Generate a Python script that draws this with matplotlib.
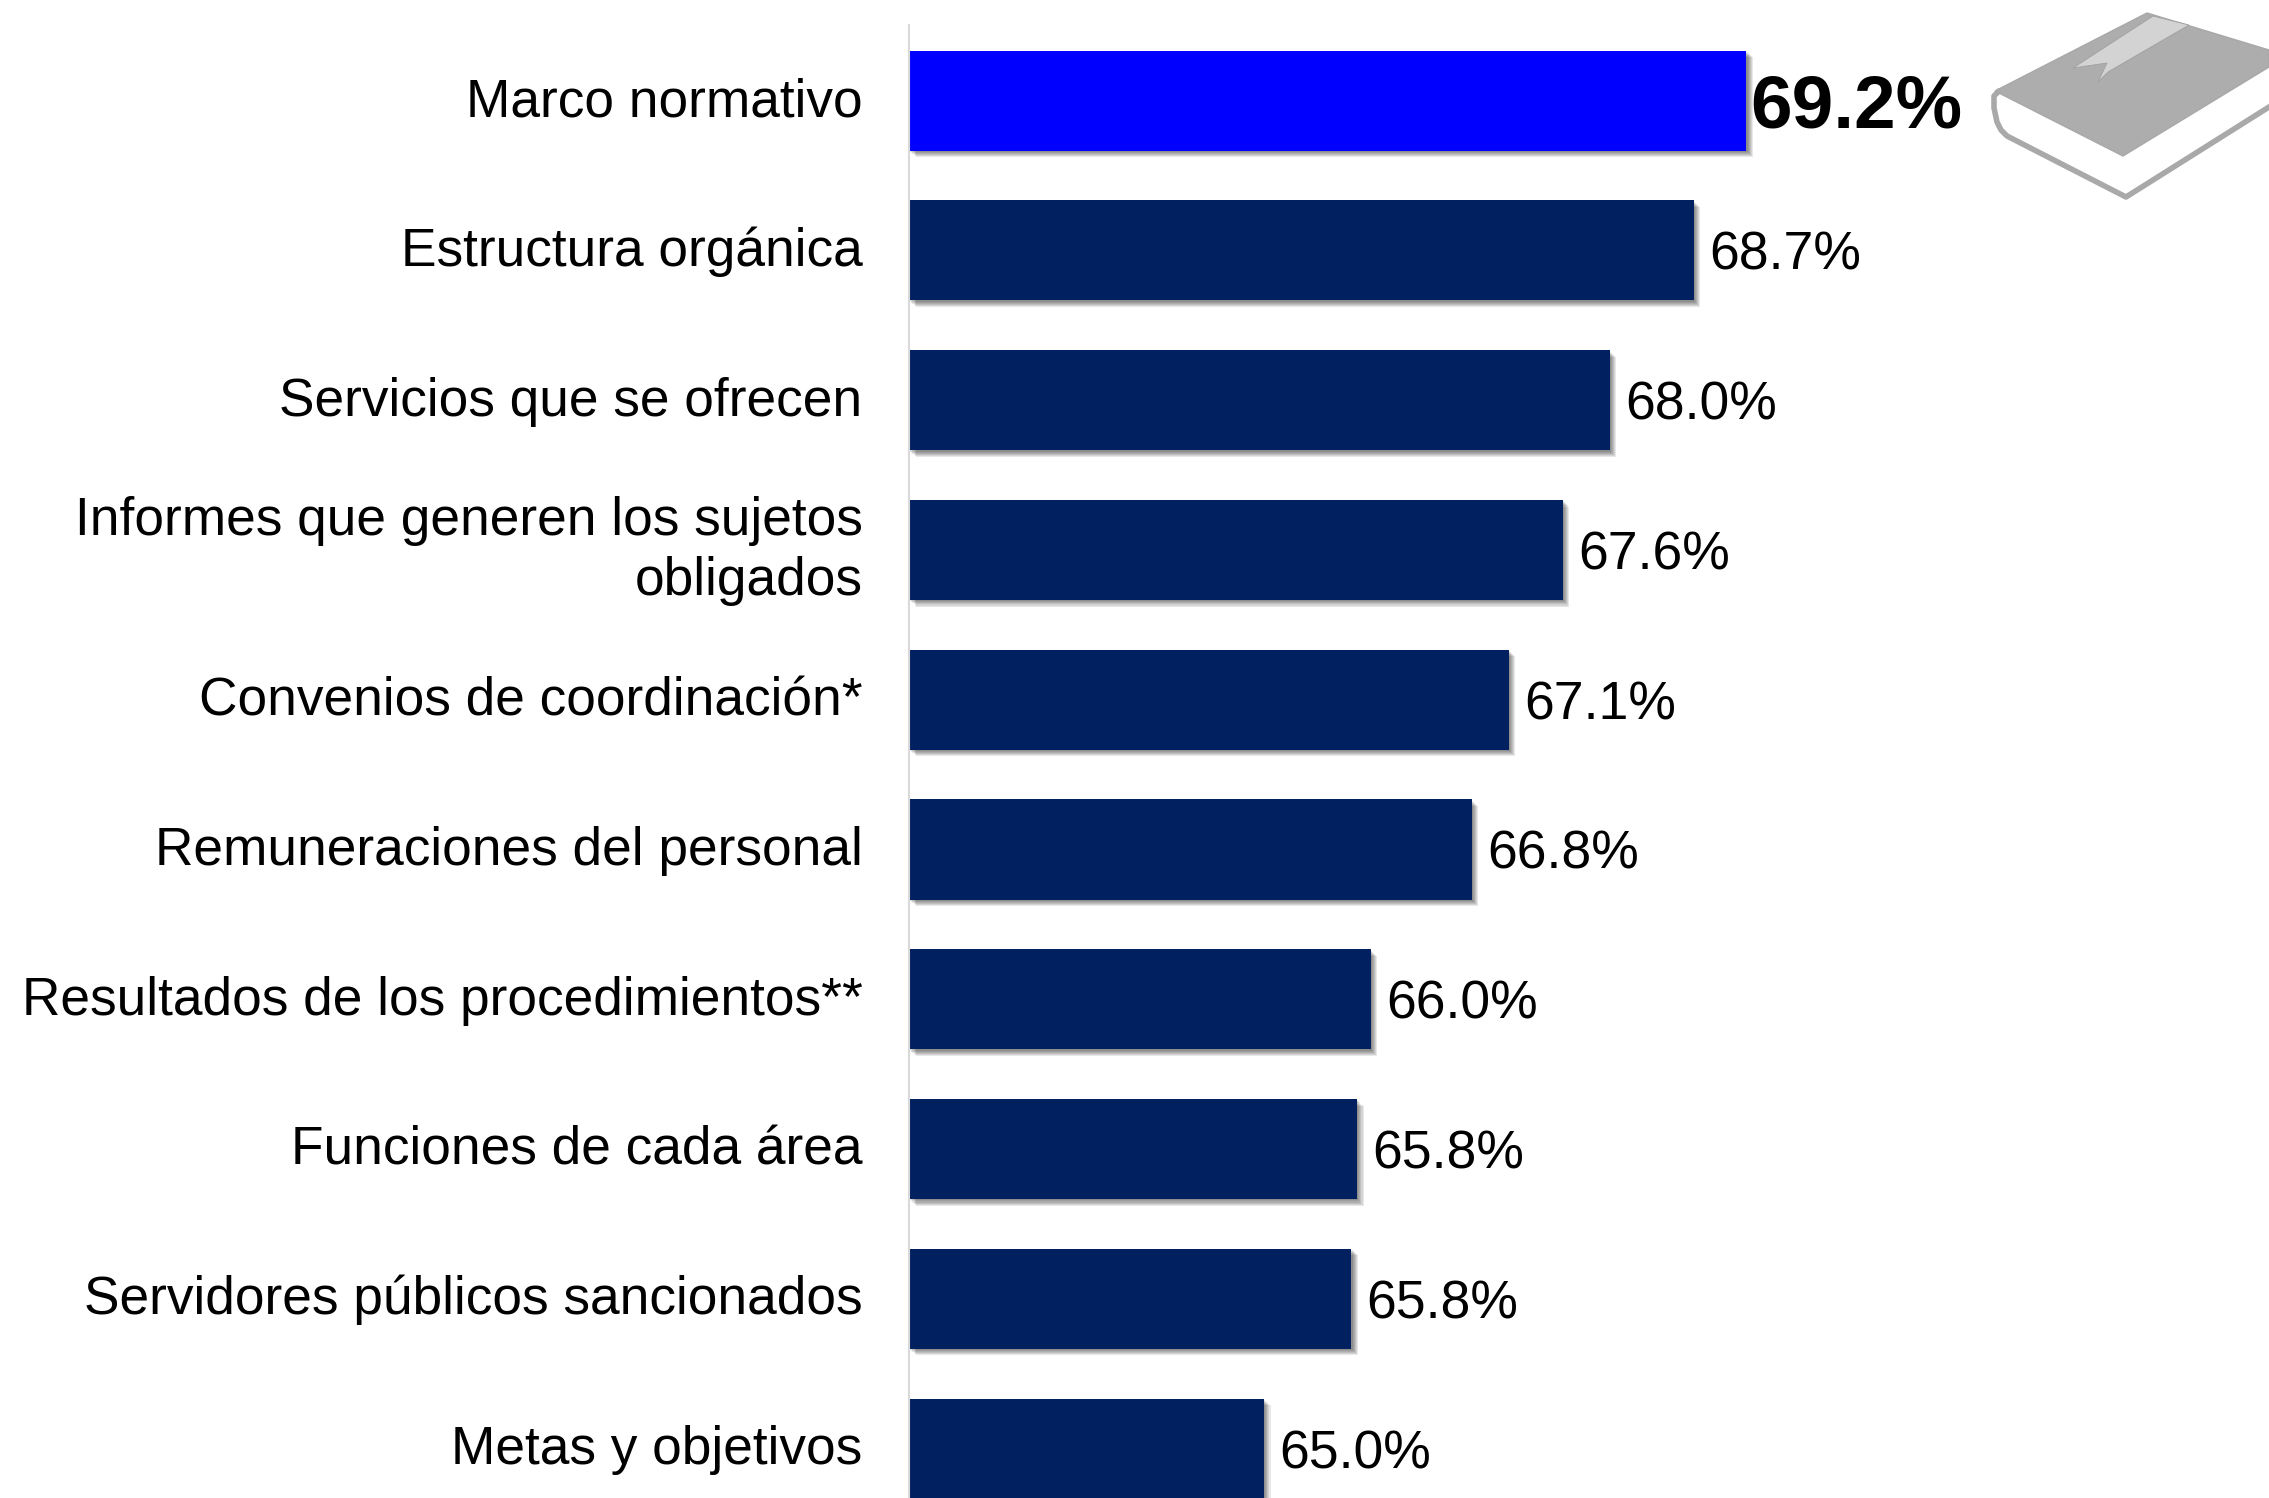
import matplotlib
matplotlib.use('Agg')
import matplotlib.pyplot as plt
import matplotlib.patheffects as pe
from matplotlib.patches import Polygon

plt.rcParams['font.family'] = ['Liberation Sans', 'DejaVu Sans']

categories = ['Marco normativo', 'Estructura orgánica', 'Servicios que se ofrecen',
              'Informes que generen los sujetos\nobligados', 'Convenios de coordinación*',
              'Remuneraciones del personal', 'Resultados de los procedimientos**',
              'Funciones de cada área', 'Servidores públicos sancionados', 'Metas y objetivos']
values = [69.2, 68.74, 68.01, 67.6, 67.13, 66.81, 65.93, 65.81, 65.76, 65.0]
value_labels = ['69.2%', '68.7%', '68.0%', '67.6%', '67.1%', '66.8%', '66.0%', '65.8%', '65.8%', '65.0%']
bar_colors = ['#0000ff'] + ['#002060'] * 9

# book icon outline, full size pixels
book_cover = [(2147, 13), (2269, 50), (2269, 67), (2123, 156), (1995, 91)]
book_ribbon = [(2153, 16), (2189, 25), (2108, 72), (2098, 82), (2107, 63), (2073, 68)]
book_pages = [(1995, 91), (2123, 156), (2269, 67), (2269, 105), (2126, 198), (2006, 137), (1997, 120)]
book_edge = [(1998, 92), (1994, 96), (1994, 108), (1997, 122), (2001, 130), (2007, 136), (2126, 197), (2269, 107)]

W, H = 2269, 1498
fig = plt.figure(figsize=(W / 100, H / 100), dpi=100)

# axes box in pixels: bars start at x=909, axis line starts at y=25
ax = fig.add_axes([909 / W, 0, (W - 909) / W, (H - 25) / H])
ax.set_xlim(61.91, 73.75)
ax.set_ylim(9.33, -0.505)

shadow = [pe.SimplePatchShadow(offset=(o, -o), shadow_rgbFace='#000000', alpha=0.09)
          for o in (1, 1.75, 2.5, 3.25, 4, 4.75)] + [pe.Normal()]
bars = ax.barh(range(len(values)), [v - 61.91 for v in values], left=61.91,
               height=0.668, color=bar_colors)
for b in bars:
    b.set_path_effects(shadow)

for i, v in enumerate(values):
    if i == 0:
        ax.annotate(value_labels[i], (v, i), xytext=(3, 0), textcoords='offset points',
                    va='center_baseline', fontsize=53.8, fontweight='bold', color='black')
    else:
        ax.annotate(value_labels[i], (v, i), xytext=(11, 0), textcoords='offset points',
                    va='center_baseline', fontsize=38.5, color='black')

# category names sit left of the axis line
for i, name in enumerate(categories):
    ax.annotate(name, (0, i), xycoords=('axes fraction', 'data'), xytext=(-33.5, -1),
                textcoords='offset points', ha='right', va='center', fontsize=38.3,
                color='black', linespacing=1.25)

ax.set_yticks([])
ax.set_xticks([])
for s in ['top', 'right', 'bottom']:
    ax.spines[s].set_visible(False)
ax.spines['left'].set_color('#d9d9d9')
ax.spines['left'].set_linewidth(1.5)

# book picture on a pixel overlay
over = fig.add_axes([0, 0, 1, 1], facecolor='none')
over.set_xlim(0, W)
over.set_ylim(H, 0)
over.axis('off')
over.add_patch(Polygon(book_pages, closed=True, fc='white', ec='none'))
over.add_patch(Polygon(book_cover, closed=True, fc='#adadad', ec='#a8a8a8', lw=1))
over.add_patch(Polygon(book_ribbon, closed=True, fc='#d3d3d3', ec='#a0a0a0', lw=0.6))
over.plot(*zip(*book_edge), color='#a9a9a9', lw=4, solid_joinstyle='round')

fig.savefig('out.png', dpi=100, facecolor='white')
